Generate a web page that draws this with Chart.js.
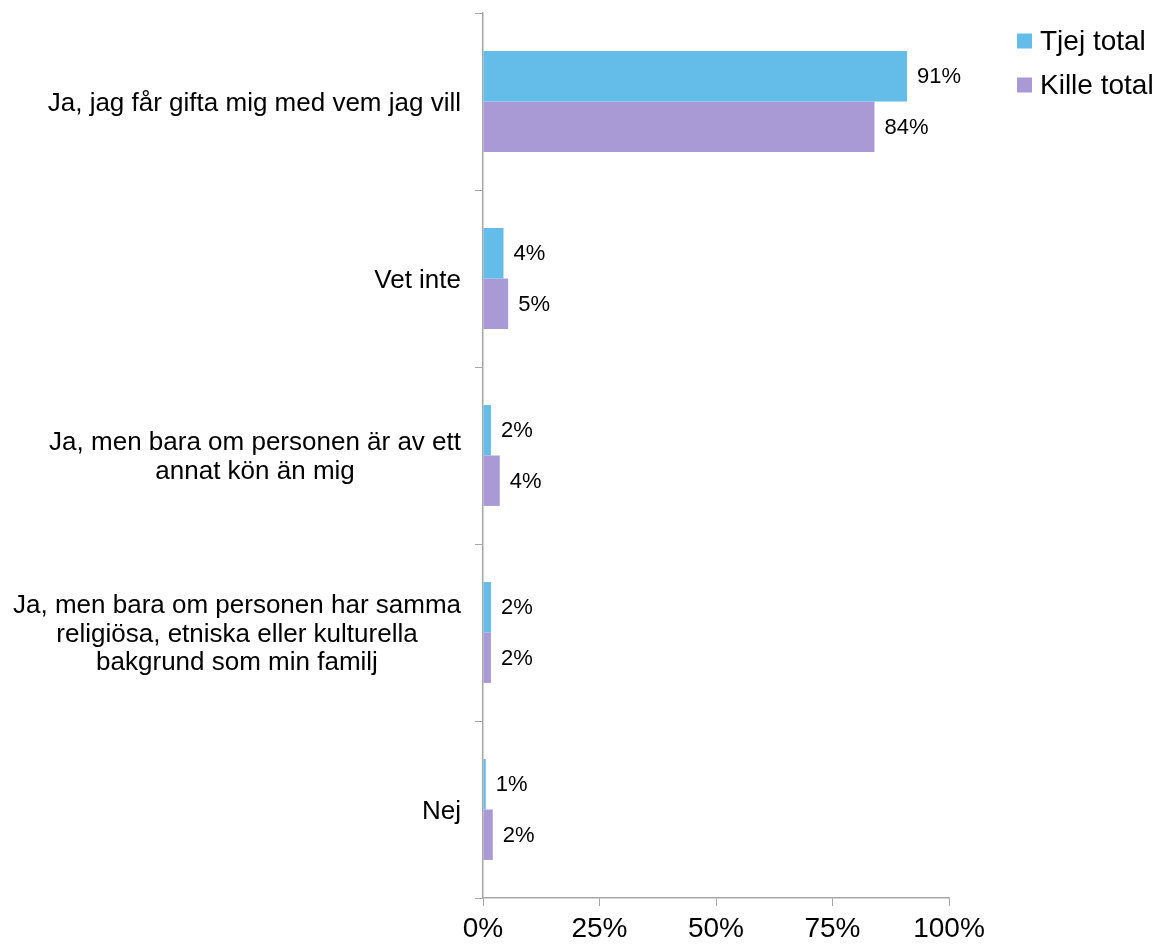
<!DOCTYPE html>
<html>
<head>
<meta charset="utf-8">
<script src="https://cdn.jsdelivr.net/npm/chart.js@4/dist/chart.umd.min.js"></script>
<style>
  html, body { margin: 0; padding: 0; background: #fff; }
  #wrap { width: 1160px; height: 946px; }
</style>
</head>
<body>
<div id="wrap"><canvas id="svar"></canvas></div>
<script>
var kategorier = [
  "Ja, jag får gifta mig med vem jag vill",
  "Vet inte",
  ["Ja, men bara om personen är av ett", "annat kön än mig"],
  ["Ja, men bara om personen har samma", "religiösa, etniska eller kulturella", "bakgrund som min familj"],
  "Nej"
];
var serier = ["Tjej total", "Kille total"];
var tjej = [91, 4.4, 1.7, 1.7, 0.6];
var kille = [84, 5.4, 3.6, 1.7, 2.1];
var xTicks = [0, 25, 50, 75, 100];

var axelFarg = "#A6A6A6";
var font = "'Liberation Sans', Arial, sans-serif";

// värdeetiketter till höger om staplarna
var etiketter = {
  id: "etiketter",
  afterDatasetsDraw: function(chart) {
    var ctx = chart.ctx;
    ctx.save();
    ctx.font = "22px " + font;
    ctx.fillStyle = "#000";
    ctx.textAlign = "left";
    ctx.textBaseline = "middle";
    chart.data.datasets.forEach(function(ds, i) {
      chart.getDatasetMeta(i).data.forEach(function(bar, j) {
        ctx.fillText(Math.round(ds.data[j]) + "%", bar.x + 10, bar.y + 1);
      });
    });
    ctx.restore();
  }
};

// kategoritexter: blocket högerställt mot axeln, raderna centrerade
var kategoriText = {
  id: "kategoriText",
  afterDraw: function(chart) {
    var ctx = chart.ctx;
    var y = chart.scales.y;
    ctx.save();
    ctx.font = "26px " + font;
    ctx.fillStyle = "#000";
    ctx.textAlign = "center";
    ctx.textBaseline = "middle";
    chart.data.labels.forEach(function(lbl, i) {
      var rader = Array.isArray(lbl) ? lbl : [lbl];
      var bredd = Math.max.apply(null, rader.map(function(r) { return ctx.measureText(r).width; }));
      var cx = 461 - bredd / 2;
      var cy = y.getPixelForValue(i);
      rader.forEach(function(r, k) {
        ctx.fillText(r, cx, cy + (k - (rader.length - 1) / 2) * 28.5 + 2);
      });
    });
    ctx.restore();
  }
};

// egen legend uppe till höger
var legend = {
  id: "egenLegend",
  afterDraw: function(chart) {
    var ctx = chart.ctx;
    ctx.save();
    ctx.font = "28px " + font;
    ctx.textBaseline = "middle";
    chart.data.datasets.forEach(function(ds, i) {
      var y = 41 + i * 44;
      ctx.fillStyle = ds.backgroundColor;
      ctx.fillRect(1017, y - 7.5, 15, 15);
      ctx.fillStyle = "#000";
      ctx.fillText(ds.label, 1040, y + 1);
    });
    ctx.restore();
  }
};

var svar = document.getElementById("svar").getContext("2d");
var svarChart = new Chart(svar, {
  type: "bar",
  data: {
    labels: kategorier,
    datasets: [
      { label: serier[0], data: tjej, backgroundColor: "#63BDE8" },
      { label: serier[1], data: kille, backgroundColor: "#A99AD6" }
    ]
  },
  options: {
    indexAxis: "y",
    responsive: true,
    maintainAspectRatio: false,
    animation: false,
    categoryPercentage: 0.57,
    barPercentage: 1,
    layout: { padding: { top: 13, right: 211, left: 0, bottom: 0 } },
    plugins: {
      legend: { display: false },
      tooltip: { enabled: false }
    },
    scales: {
      x: {
        min: 0,
        max: 100,
        afterBuildTicks: function(s) {
          s.ticks = xTicks.map(function(v) { return { value: v }; });
        },
        afterFit: function(s) { s.height = 48; },
        grid: { drawOnChartArea: false, color: axelFarg, tickLength: 8 },
        border: { color: axelFarg, width: 1.5 },
        ticks: {
          color: "#000",
          padding: 6,
          maxRotation: 0,
          font: { size: 28, family: font },
          callback: function(v) { return v + "%"; }
        }
      },
      y: {
        afterFit: function(s) {
          s.width = 483;
          s.paddingTop = 0;
          s.paddingBottom = 0;
        },
        grid: { drawOnChartArea: false, color: axelFarg, tickLength: 8, offset: true },
        border: { color: axelFarg, width: 1.5 },
        ticks: { display: false }
      }
    }
  },
  plugins: [etiketter, kategoriText, legend]
});
</script>
</body>
</html>
